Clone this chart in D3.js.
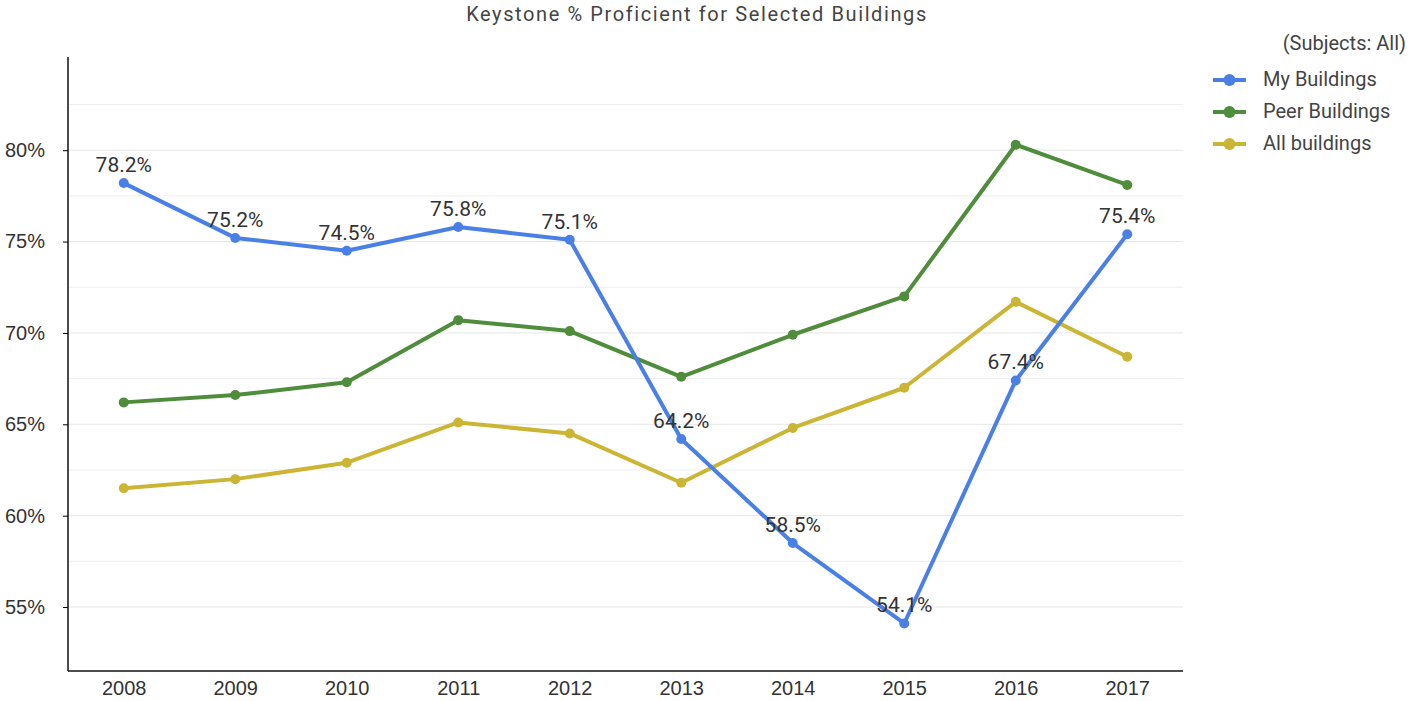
<!DOCTYPE html>
<html>
<head>
<meta charset="utf-8">
<script src="https://cdn.jsdelivr.net/npm/d3@7"></script>
<style>
  body { margin: 0; background: #fff; }
  svg { font-family: Roboto, sans-serif; }
</style>
</head>
<body>
<svg id="chart" width="1408" height="701"></svg>
<script>
const years = ["2008", "2009", "2010", "2011", "2012", "2013", "2014", "2015", "2016", "2017"];
const myBuildings = [78.2, 75.2, 74.5, 75.8, 75.1, 64.2, 58.5, 54.1, 67.4, 75.4];
const peerBuildings = [66.2, 66.6, 67.3, 70.7, 70.1, 67.6, 69.9, 72.0, 80.3, 78.1];
const allBuildings = [61.5, 62.0, 62.9, 65.1, 64.5, 61.8, 64.8, 67.0, 71.7, 68.7];
const seriesNames = ["My Buildings", "Peer Buildings", "All buildings"];
const yTicks = [55, 60, 65, 70, 75, 80];

const colors = ["#4a80e6", "#4f8c3b", "#cbb534"];

const svg = d3.select("#chart");
const plotLeft = 68, plotRight = 1183, plotTop = 57, plotBottom = 671;

const x = d3.scalePoint().domain(years).range([plotLeft, plotRight]).padding(0.5);
const y = d3.scaleLinear().domain([51.5, 85.1]).range([plotBottom, plotTop]);

// gridlines every 2.5%
svg.append("g")
  .selectAll("line")
  .data(d3.range(55, 82.6, 2.5))
  .enter().append("line")
  .attr("x1", plotLeft).attr("x2", plotRight)
  .attr("y1", d => y(d)).attr("y2", d => y(d))
  .attr("stroke", d => d % 5 === 0 ? "#e6e6e6" : "#efefef")
  .attr("stroke-width", 1);

// axes
let yAxis = svg.append("g")
  .attr("transform", `translate(${plotLeft},0)`)
  .call(d3.axisLeft(y).tickValues(yTicks).tickSize(5).tickFormat(d => d + "%"));
yAxis.select(".domain").attr("d", `M0,${plotTop}V${plotBottom}`).attr("stroke", "#111").attr("stroke-width", 1.5);
yAxis.selectAll("text").attr("font-size", 20).attr("fill", "#333").attr("x", -23);

let xAxis = svg.append("g")
  .attr("transform", `translate(0,${plotBottom})`)
  .call(d3.axisBottom(x).tickSize(0).tickPadding(10));
xAxis.select(".domain").attr("d", `M${plotLeft},0H${plotRight}`).attr("stroke", "#111").attr("stroke-width", 1.5);
xAxis.selectAll("text").attr("font-size", 20).attr("fill", "#333");

// series
const series = [myBuildings, peerBuildings, allBuildings];
const line = d3.line().x((d, i) => x(years[i])).y(d => y(d));

// draw in reverse so blue sits on top
[2, 1, 0].forEach(k => {
  let g = svg.append("g");
  g.append("path")
    .datum(series[k])
    .attr("d", line)
    .attr("fill", "none")
    .attr("stroke", colors[k])
    .attr("stroke-width", 4)
    .attr("stroke-linejoin", "round");
  g.selectAll("circle")
    .data(series[k])
    .enter().append("circle")
    .attr("cx", (d, i) => x(years[i]))
    .attr("cy", d => y(d))
    .attr("r", 5)
    .attr("fill", colors[k]);
});

// labels for My Buildings
svg.append("g")
  .selectAll("text")
  .data(myBuildings)
  .enter().append("text")
  .attr("x", (d, i) => x(years[i]))
  .attr("y", d => y(d) - 11)
  .attr("text-anchor", "middle")
  .attr("font-size", 21)
  .attr("fill", "#333")
  .text(d => d.toFixed(1) + "%");

// title
svg.append("text")
  .attr("x", 697).attr("y", 21)
  .attr("text-anchor", "middle")
  .attr("font-size", 20)
  .attr("letter-spacing", 1.6)
  .attr("fill", "#444")
  .text("Keystone % Proficient for Selected Buildings");

// legend
svg.append("text")
  .attr("x", 1406).attr("y", 50)
  .attr("text-anchor", "end")
  .attr("font-size", 20)
  .attr("fill", "#444")
  .text("(Subjects: All)");

let legend = svg.append("g")
  .selectAll("g")
  .data(seriesNames)
  .enter().append("g")
  .attr("transform", (d, i) => `translate(1213,${80 + i * 32})`);
legend.append("line")
  .attr("x1", 0).attr("x2", 33)
  .attr("stroke", (d, i) => colors[i]).attr("stroke-width", 4);
legend.append("circle")
  .attr("cx", 16.5).attr("r", 6)
  .attr("fill", (d, i) => colors[i]);
legend.append("text")
  .attr("x", 50).attr("y", 6)
  .attr("font-size", 20)
  .attr("fill", "#444")
  .text(d => d);
</script>
</body>
</html>
